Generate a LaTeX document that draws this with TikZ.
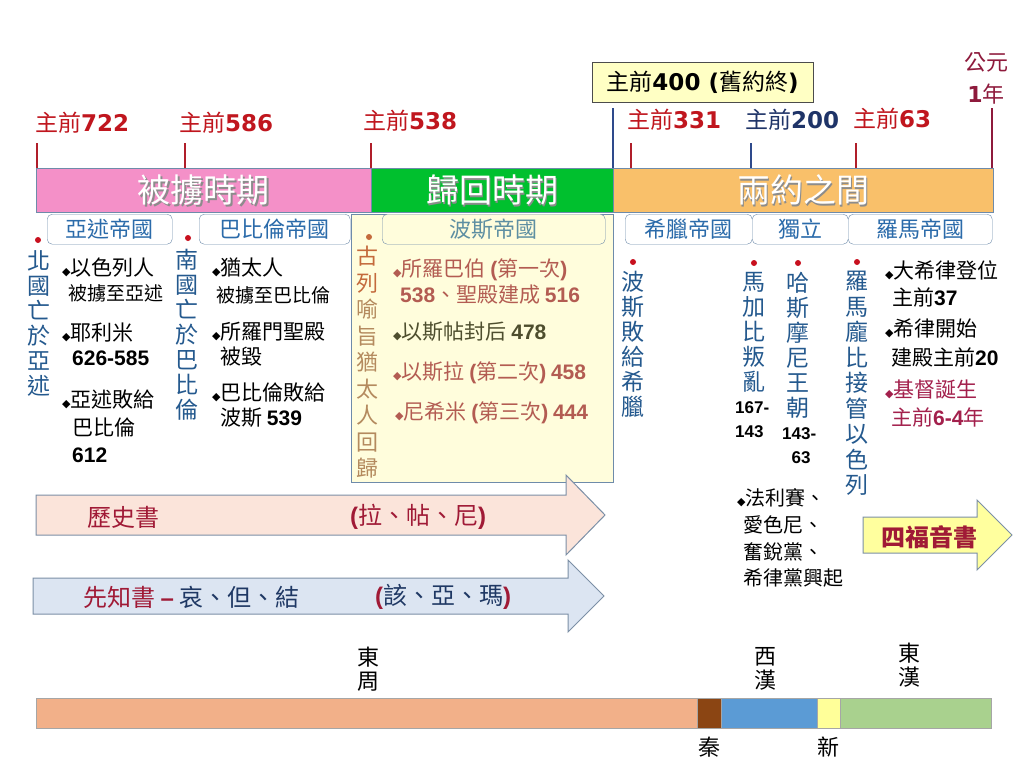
\documentclass[tikz,border=0pt]{standalone}
\usepackage{fontspec}
\setmainfont{Noto Sans CJK TC}
\newfontfamily\verd{DejaVu Sans}
\newfontfamily\arl{Liberation Sans}
\usetikzlibrary{calc}

\definecolor{yearred}{HTML}{C0161E}
\definecolor{yearnavy}{HTML}{1F3468}
\definecolor{adred}{HTML}{8E1A3C}
\definecolor{tickred}{HTML}{B01E2A}
\definecolor{ticknavy}{HTML}{2E4A8C}
\definecolor{exilepink}{HTML}{F490C8}
\definecolor{returngreen}{HTML}{00C02E}
\definecolor{interorange}{HTML}{F9C06A}
\definecolor{empblue}{HTML}{2B6BAA}
\definecolor{empline}{HTML}{6E8BAA}
\definecolor{persiablue}{HTML}{5E8FA2}
\definecolor{vblue}{HTML}{24598E}
\definecolor{dotred}{HTML}{C8101E}
\definecolor{persia}{HTML}{FFFDDC}
\definecolor{persiatext}{HTML}{B35C52}
\definecolor{esther}{HTML}{4E4E2E}
\definecolor{cyrus}{HTML}{C46A3C}
\definecolor{cyrusrest}{HTML}{B48A5E}
\definecolor{christ}{HTML}{A3204C}
\definecolor{bookred}{HTML}{A01A36}
\definecolor{booknavy}{HTML}{1F3864}
\definecolor{histfill}{HTML}{FBE4DA}
\definecolor{propfill}{HTML}{DCE5F2}
\definecolor{arrline}{HTML}{7C8FA6}
\definecolor{gospelfill}{HTML}{FFFF9E}
\definecolor{otfill}{HTML}{FFFFC4}
\definecolor{zhou}{HTML}{F2B089}
\definecolor{qin}{HTML}{8B4513}
\definecolor{xihan}{HTML}{5B9BD5}
\definecolor{xin}{HTML}{FFFF99}
\definecolor{donghan}{HTML}{A9D18E}

\newcommand\dm{{\verd\fontsize{11}{11}\selectfont ◆}}
\newcommand\nb[1]{{\arl\bfseries #1}}
\newcommand\yb[1]{{\verd\bfseries #1}}

\begin{document}
\begin{tikzpicture}[x=1pt,y=-1pt,
    yearlab/.style={anchor=west,inner sep=0,text=yearred,font=\fontsize{23}{25}\selectfont},
    tick/.style={line width=2.5pt,tickred},
    period/.style={draw=empline,anchor=north west,inner sep=0,minimum height=44},
    empire/.style={draw=empline,rounded corners=5pt,fill=white,text=empblue,anchor=north west,inner sep=0,minimum height=30,font=\fontsize{22}{24}\selectfont},
    vlab/.style={anchor=north,align=center,inner sep=0,text=vblue,font=\fontsize{23}{25}\selectfont},
    pin/.style={circle,fill=dotred,inner sep=0,minimum size=6},
    item/.style={anchor=west,inner sep=0,font=\fontsize{21}{24}\selectfont},
    sub/.style={anchor=west,inner sep=0,font=\fontsize{19}{22}\selectfont},
    yrs/.style={anchor=north west,align=left,inner sep=0,font=\arl\bfseries\fontsize{17}{24}\selectfont},
    bookarrow/.style={draw=arrline,line width=1pt},
    dyn/.style={align=center,inner sep=0,font=\fontsize{22}{24}\selectfont},
    era/.style={draw=gray!70,line width=0.6pt}
  ]
  \fill[white] (0,0) rectangle (1024,768);
  \useasboundingbox (0,0) rectangle (1024,768);

  % years
  \node[yearlab] (y722) at (35,123) {主前\yb{722}};
  \node[yearlab] (y586) at (179,123) {主前\yb{586}};
  \node[yearlab] (y538) at (363,121) {主前\yb{538}};
  \node[yearlab] (y331) at (627,120) {主前\yb{331}};
  \node[yearlab,text=yearnavy] (y200) at (745,120) {主前\yb{200}};
  \node[yearlab] (y63) at (853,119) {主前\yb{63}};
  \node[align=center,inner sep=0,text=adred,font=\fontsize{22}{32}\selectfont] (ad1) at (986,78) {公元\\\yb{1}年};
  \node[draw=black!70,fill=otfill,minimum width=221,minimum height=40,inner sep=0,font=\fontsize{23}{25}\selectfont] (otend) at (702.5,82) {主前\yb{400 (}舊約終\yb{)}};

  \foreach \x in {37,185,371,631,856}
    \draw[tick] (\x,143) -- (\x,168);
  \draw[tick,ticknavy] (751,143) -- (751,168);
  \draw[tick,ticknavy] (613,108) -- (613,168);
  \draw[tick,adred] (992,108) -- (992,168);

  % periods
  \node[period,fill=exilepink,minimum width=335] (exile) at (36,168) {};
  \node[period,fill=returngreen,minimum width=242] (return) at (371,168) {};
  \node[period,fill=interorange,minimum width=380] (between) at (613,168) {};
  \foreach \n/\t in {exile/被擄時期,return/歸回時期,between/兩約之間}{
    \node[text=black!45,font=\fontsize{33}{35}\selectfont] at ($(\n.center)+(1.5,1.5)$) {\t};
    \node[text=white,font=\fontsize{33}{35}\selectfont] (\n-t) at (\n.center) {\t};
  }

  \node[draw=empline,fill=persia,anchor=north west,minimum width=262,minimum height=268,inner sep=0] (pbox) at (351,214) {};

  % empires
  \node[empire,minimum width=125] (assyria) at (47,214) {亞述帝國};
  \node[empire,minimum width=151] (babylon) at (199,214) {巴比倫帝國};
  \node[empire,minimum width=223,fill=persia,text=persiablue] (persia) at (382,214) {波斯帝國};
  \node[empire,minimum width=127] (greece) at (625,214) {希臘帝國};
  \node[empire,minimum width=96] (indep) at (752,214) {獨立};
  \node[empire,minimum width=144] (rome) at (848,214) {羅馬帝國};

  % events
  \node[pin] (p1) at (38,240) {};
  \node[vlab] (north) at (39,250) {北\\國\\亡\\於\\亞\\述};
  \node[pin] (p2) at (188,238) {};
  \node[vlab] (south) at (187,249) {南\\國\\亡\\於\\巴\\比\\倫};
  \node[pin,fill=cyrus] (p3) at (369,237) {};
  \node[vlab,text=cyrusrest,font=\fontsize{22}{26.5}\selectfont] (cyrus) at (367,246) {\textcolor{cyrus}{古}\\\textcolor{cyrus}{列}\\喻\\旨\\猶\\太\\人\\回\\歸};
  \node[pin] (p4) at (633,262) {};
  \node[vlab] (persfall) at (633,271) {波\\斯\\敗\\給\\希\\臘};
  \node[pin] (p5) at (754,263) {};
  \node[vlab] (macc) at (754,272) {馬\\加\\比\\叛\\亂};
  \node[yrs] (maccy) at (735,401) {167-\\143};
  \node[pin] (p6) at (798,263) {};
  \node[vlab] (hasm) at (798,272) {哈\\斯\\摩\\尼\\王\\朝};
  \node[yrs] (hasmy) at (782,427) {143-\\\ \ 63};
  \node[pin] (p7) at (857,262) {};
  \node[vlab,font=\fontsize{23}{25.5}\selectfont] (pompey) at (857,271) {羅\\馬\\龐\\比\\接\\管\\以\\色\\列};

  % notes
  \node[item] (a1) at (62,268) {\dm 以色列人};
  \node[sub] (a2) at (68,293) {被擄至亞述};
  \node[item] (a3) at (62,333) {\dm 耶利米};
  \node[item] (a4) at (72,358) {\nb{626-585}};
  \node[item] (a5) at (62,400) {\dm 亞述敗給};
  \node[item] (a6) at (72,427) {巴比倫};
  \node[item] (a7) at (72,455) {\nb{612}};

  \node[item] (b1) at (212,268) {\dm 猶太人};
  \node[sub] (b2) at (216,295) {被擄至巴比倫};
  \node[item] (b3) at (212,332) {\dm 所羅門聖殿};
  \node[item] (b4) at (220,357) {被毀};
  \node[item] (b5) at (212,392) {\dm 巴比倫敗給};
  \node[item] (b6) at (220,418) {波斯 \nb{539}};

  \node[item,text=persiatext] (c1) at (393,270) {\dm 所羅巴伯 \nb{(}第一次\nb{)}};
  \node[item,text=persiatext] (c2) at (400,295) {\nb{538}、聖殿建成 \nb{516}};
  \node[item,text=esther] (c3) at (393,332) {\dm 以斯帖封后 \nb{478}};
  \node[item,text=persiatext] (c4) at (393,373) {\dm 以斯拉 \nb{(}第二次\nb{)} \nb{458}};
  \node[item,text=persiatext] (c5) at (395,413) {\dm 尼希米 \nb{(}第三次\nb{)} \nb{444}};

  \node[item] (r1) at (885,270) {\dm 大希律登位};
  \node[item] (r2) at (892,297) {主前\nb{37}};
  \node[item] (r3) at (885,329) {\dm 希律開始};
  \node[item] (r4) at (891,357) {建殿主前\nb{20}};
  \node[item,text=christ] (r5) at (885,390) {\dm 基督誕生};
  \node[item,text=christ] (r6) at (891,417) {主前\nb{6-4}年};

  \node[item,font=\fontsize{20}{24}\selectfont] (s1) at (737,498) {\dm 法利賽、};
  \node[item,font=\fontsize{20}{24}\selectfont] (s2) at (743,525) {愛色尼、};
  \node[item,font=\fontsize{20}{24}\selectfont] (s3) at (743,552) {奮銳黨、};
  \node[item,font=\fontsize{20}{24}\selectfont] (s4) at (743,578) {希律黨興起};

  % books
  \draw[bookarrow,fill=histfill] (36,495) -- (566,495) -- (566,475) -- (605,515) -- (566,555) -- (566,535) -- (36,535) -- cycle;
  \node[item,text=bookred,font=\fontsize{24}{26}\selectfont] (hist) at (87,517) {歷史書};
  \node[item,text=bookred,font=\fontsize{24}{26}\selectfont] (histb) at (350,517) {\nb{(}拉、帖、尼\nb{)}};
  \draw[bookarrow,fill=propfill] (33,578) -- (568,578) -- (568,560) -- (604,596) -- (568,632) -- (568,614) -- (33,614) -- cycle;
  \node[item,text=bookred,font=\fontsize{24}{26}\selectfont] (proph) at (83,597) {先知書 \nb{–} \textcolor{booknavy}{哀、但、結}};
  \node[item,text=bookred,font=\fontsize{24}{26}\selectfont] (prophb) at (375,597) {\nb{(}\textcolor{booknavy}{該、亞、瑪}\nb{)}};
  \draw[bookarrow,fill=gospelfill] (863,517) -- (977,517) -- (977,500) -- (1012,535) -- (977,570) -- (977,553) -- (863,553) -- cycle;
  \node[text=bookred,inner sep=0,font=\fontsize{24}{26}\selectfont\bfseries] (gospel) at (929,537) {四福音書};

  % china
  \foreach \a/\b/\c in {36/697/zhou,697/721/qin,721/817/xihan,817/840/xin,840/991/donghan}
    \draw[era,fill=\c] (\a,698) rectangle (\b,728);
  \node[dyn] (dzhou) at (368,669) {東\\周};
  \node[dyn] (dxihan) at (765,669) {西\\漢};
  \node[dyn] (ddonghan) at (909,665) {東\\漢};
  \node[dyn] (dqin) at (709,747) {秦};
  \node[dyn] (dxin) at (828,747) {新};
\end{tikzpicture}
\end{document}
